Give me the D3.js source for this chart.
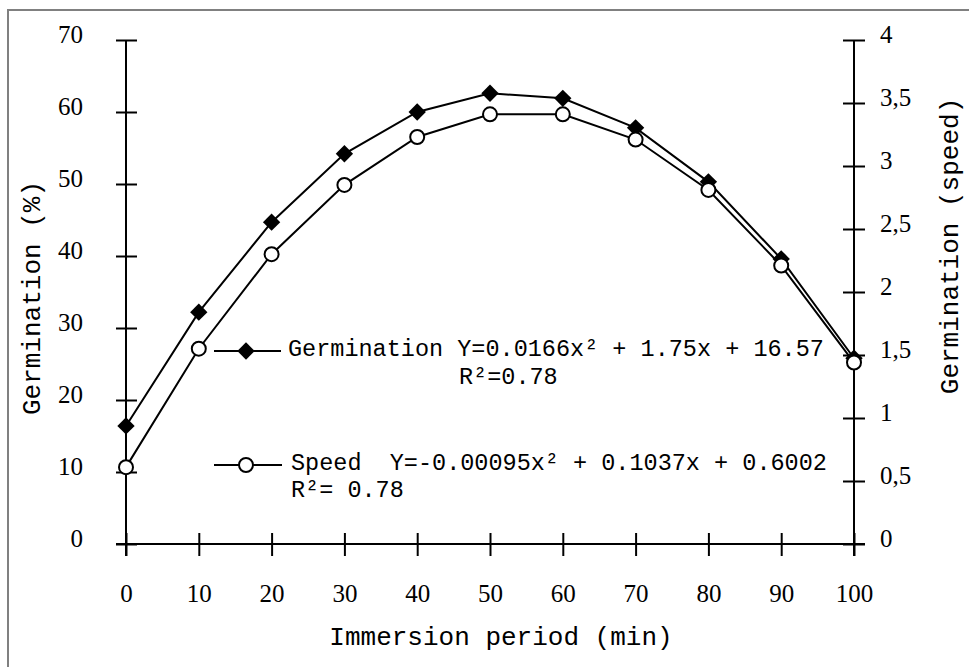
<!DOCTYPE html>
<html><head><meta charset="utf-8">
<script src="https://cdn.jsdelivr.net/npm/d3@7"></script>
<style>
html,body{margin:0;padding:0;background:#fff;}
svg{display:block;}
</style>
</head><body>
<svg id="chart" width="969" height="667"></svg>
<script>
const periods = [0,10,20,30,40,50,60,70,80,90,100];
const germination = [16.4,32.2,44.7,54.2,60.0,62.6,61.9,57.8,50.3,39.6,25.8];
const speed = [0.61,1.55,2.30,2.85,3.23,3.41,3.41,3.21,2.81,2.21,1.44];
const leftTicks = [0,10,20,30,40,50,60,70];
const rightTicks = [0,0.5,1,1.5,2,2.5,3,3.5,4];
const xTicks = [0,10,20,30,40,50,60,70,80,90,100];
const xTitle = "Immersion period (min)";
const leftTitle = "Germination (%)";
const rightTitle = "Germination (speed)";
const legendGerm = ["Germination Y=0.0166x\u00B2 + 1.75x + 16.57", "R\u00B2=0.78"];
const legendSpeed = ["Speed  Y=-0.00095x\u00B2 + 0.1037x + 0.6002", "R\u00B2= 0.78"];

const svg = d3.select("#chart");
const serif = "'Liberation Serif','Times New Roman',serif";
const mono = "'Liberation Mono','Courier New',monospace";

// outer frame
svg.append("path").attr("d", "M8,667V10H969").attr("fill","none").attr("stroke","#808080").attr("stroke-width",2);

const x = d3.scaleLinear().domain([0,100]).range([126,854]);
const yL = d3.scaleLinear().domain([0,70]).range([544,40]);
const yR = d3.scaleLinear().domain([0,4]).range([544,40]);

const fmtR = d => d3.format("")(d).replace(".", ",");

// left axis
const gL = svg.append("g").attr("transform",`translate(${x(0)},0)`)
  .call(d3.axisLeft(yL).tickValues(leftTicks).tickSize(10).tickPadding(0));
gL.select(".domain").attr("d", `M0,${yL(70)}V${yL(0)+12}`).attr("stroke","#000").attr("stroke-width",2);
gL.selectAll(".tick line").attr("x1",-10).attr("x2",11).attr("stroke","#000").attr("stroke-width",2);
gL.selectAll(".tick text").attr("x",-43).attr("dy","0.32em").attr("y",-6)
  .attr("font-family",serif).attr("font-size",25).attr("fill","#000");

// right axis
const gR = svg.append("g").attr("transform",`translate(${x(100)},0)`)
  .call(d3.axisRight(yR).tickValues(rightTicks).tickFormat(fmtR).tickSize(10).tickPadding(0));
gR.select(".domain").attr("d", `M0,${yR(4)}V${yR(0)+12}`).attr("stroke","#000").attr("stroke-width",2);
gR.selectAll(".tick line").attr("x1",-11).attr("x2",11).attr("stroke","#000").attr("stroke-width",2);
gR.selectAll(".tick text").attr("x",26).attr("dy","0.32em").attr("y",-6)
  .attr("font-family",serif).attr("font-size",25).attr("fill","#000");

// bottom axis
const gB = svg.append("g").attr("transform",`translate(0,${yL(0)})`)
  .call(d3.axisBottom(x).tickValues(xTicks).tickSize(10).tickPadding(0));
gB.select(".domain").attr("d", `M${x(0)-10},0H${x(100)+11}`).attr("stroke","#000").attr("stroke-width",2);
gB.selectAll(".tick line").attr("y1",-11).attr("y2",12).attr("stroke","#000").attr("stroke-width",2);
gB.selectAll(".tick text").attr("y",58).attr("dy",0)
  .attr("font-family",serif).attr("font-size",25).attr("fill","#000");

// titles
svg.append("text").attr("x",501).attr("y",645).attr("text-anchor","middle")
  .attr("font-family",mono).attr("font-size",26).attr("fill","#000").text(xTitle);
svg.append("text").attr("transform",`translate(40,298) rotate(-90)`).attr("text-anchor","middle")
  .attr("font-family",mono).attr("font-size",26).attr("fill","#000").text(leftTitle);
svg.append("text").attr("transform",`translate(958,246) rotate(-90)`).attr("text-anchor","middle")
  .attr("font-family",mono).attr("font-size",26).attr("fill","#000").text(rightTitle);

// lines
const lineG = d3.line().x((d,i)=>x(periods[i])).y(d=>yL(d));
const lineS = d3.line().x((d,i)=>x(periods[i])).y(d=>yR(d));
svg.append("path").datum(germination).attr("d",lineG).attr("fill","none").attr("stroke","#000").attr("stroke-width",2);
svg.append("path").datum(speed).attr("d",lineS).attr("fill","none").attr("stroke","#000").attr("stroke-width",2);

const diamond = d3.symbol().type(d3.symbolSquare).size(150);
svg.append("g").selectAll("path").data(germination).join("path")
  .attr("d", diamond)
  .attr("transform",(d,i)=>`translate(${x(periods[i])},${yL(d)}) rotate(45)`)
  .attr("fill","#000");
svg.append("g").selectAll("circle").data(speed).join("circle")
  .attr("cx",(d,i)=>x(periods[i])).attr("cy",d=>yR(d)).attr("r",7)
  .attr("fill","#fff").attr("stroke","#000").attr("stroke-width",2);

// legend
const lg = svg.append("g");
lg.append("line").attr("x1",214).attr("x2",281).attr("y1",351).attr("y2",351).attr("stroke","#000").attr("stroke-width",2);
lg.append("path").attr("d",diamond).attr("transform","translate(246,351) rotate(45)").attr("fill","#000");
lg.append("text").attr("x",288).attr("y",356).attr("font-family",mono).attr("font-size",23.5).attr("fill","#000").attr("xml:space","preserve").text(legendGerm[0]);
lg.append("text").attr("x",459).attr("y",384).attr("font-family",mono).attr("font-size",23.5).attr("fill","#000").attr("xml:space","preserve").text(legendGerm[1]);

lg.append("line").attr("x1",214).attr("x2",282).attr("y1",465).attr("y2",465).attr("stroke","#000").attr("stroke-width",2);
lg.append("circle").attr("cx",246).attr("cy",465).attr("r",7).attr("fill","#fff").attr("stroke","#000").attr("stroke-width",2);
lg.append("text").attr("x",291).attr("y",470).attr("font-family",mono).attr("font-size",23.5).attr("fill","#000").attr("xml:space","preserve").style("white-space","pre").text(legendSpeed[0]);
lg.append("text").attr("x",291).attr("y",497).attr("font-family",mono).attr("font-size",23.5).attr("fill","#000").attr("xml:space","preserve").style("white-space","pre").text(legendSpeed[1]);
</script>
</body></html>
